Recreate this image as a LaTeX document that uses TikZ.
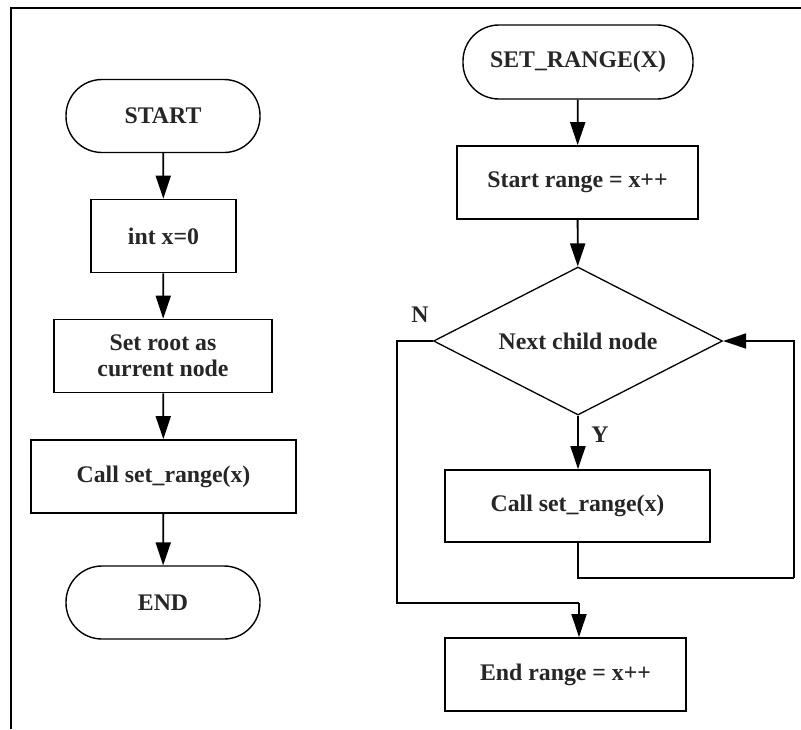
\documentclass[tikz,border=0pt]{standalone}
\usepackage{fontspec}
\setmainfont{Liberation Serif}
\usetikzlibrary{shapes.geometric,arrows.meta}
\begin{document}
\begin{tikzpicture}[x=1pt,y=-1pt,
  every node/.style={font=\fontsize{23.8}{28}\selectfont\bfseries, text=black!85},
  procbox/.style={draw, line width=1.8pt, inner sep=0pt, minimum height=73pt},
  term/.style={draw, line width=1.4pt, inner sep=0pt, minimum width=194pt, minimum height=73pt, rounded corners=36pt},
  decide/.style={draw, diamond, aspect=1.95, line width=1.3pt, inner sep=0pt, minimum width=289pt, minimum height=148pt},
  flow/.style={line width=1.8pt, -{Triangle[length=23pt,width=15pt]}},
  wire/.style={line width=1.8pt},
  tag/.style={inner sep=0pt}
]
\useasboundingbox (0,0) rectangle (801,729);
\fill[white] (0,0) rectangle (801,729);
% outer frame
\draw[line width=2pt] (801,8) -- (11,8) -- (11,729);

% main routine
\node[term] (start) at (163,116) {START};
\node[procbox, minimum width=145pt] (init) at (163.5,236) {int x=0};
\node[procbox, minimum width=218pt, align=center] (root) at (163,356) {Set root as\\[-2pt]current node};
\node[procbox, minimum width=265pt] (call1) at (163.5,476.5) {Call set\_range(x)};
\node[term] (stop) at (163,602.5) {END};

\draw[flow] (start) -- (init);
\draw[flow] (init) -- (root);
\draw[flow] (root) -- (call1);
\draw[flow] (call1) -- (stop);

% set_range routine
\node[term, minimum width=230pt, minimum height=74pt] (setr) at (578,62) {SET\_RANGE(X)};
\node[procbox, minimum width=241pt] (srange) at (577.5,182.5) {Start range = x++};
\node[decide] (child) at (578,341) {Next child node};
\node[procbox, minimum width=265pt, minimum height=72pt] (call2) at (577.5,506) {Call set\_range(x)};
\node[procbox, minimum width=241pt] (erange) at (565.5,674.5) {End range = x++};

\draw[flow] (setr) -- (srange);
\draw[flow] (srange) -- (child);
\draw[flow] (child.south) -- (call2.north -| child.south);
\node[tag] (ylab) at (600,435) {Y};

% loop back to the decision
\coordinate (loopA) at (794,578);
\draw[wire] (call2.south -| child.south) |- (loopA);
\draw[flow] (loopA) |- (child.east);

% exit branch
\coordinate (exitA) at (397,603);
\coordinate (exitB) at (579,603);
\node[tag] (nlab) at (420,315) {N};
\draw[wire] (child.west) -| (exitA) -- (exitB);
\draw[flow] (exitB) -- (exitB |- erange.north);
\end{tikzpicture}
\end{document}
